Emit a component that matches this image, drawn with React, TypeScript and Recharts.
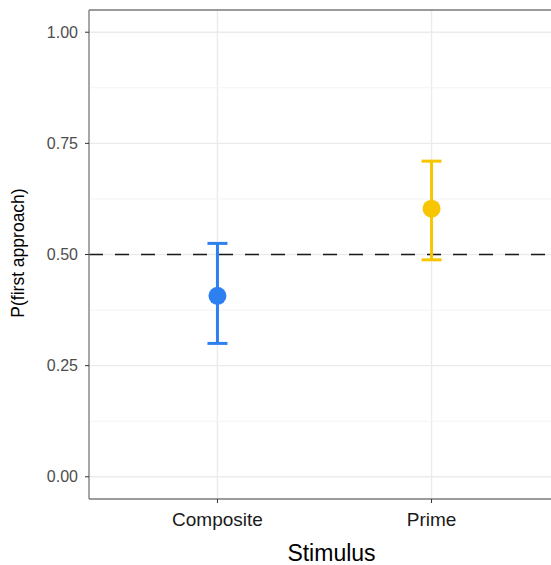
import {
  CartesianGrid,
  ComposedChart,
  ErrorBar,
  ReferenceLine,
  Scatter,
  XAxis,
  YAxis
} from "recharts";

const categories = ["Composite", "Prime"];
const means = [0.407, 0.603];
const lower = [0.3, 0.488];
const upper = [0.525, 0.71];
const colors = ["#2D80F0", "#F7C600"];
const yTicks = [0, 0.25, 0.5, 0.75, 1];
const minorTicks = [0.125, 0.375, 0.625, 0.875];

const series = categories.map((name, i) => ({
  name,
  color: colors[i],
  data: [{ x: i + 1, y: means[i], err: [means[i] - lower[i], upper[i] - means[i]] }]
}));

const font = "'Liberation Sans', Arial, Helvetica, sans-serif";

export default function App() {
  return (
    <div style={{ width: 551, height: 565, overflow: "hidden", position: "relative" }}>
      <style>{"html, body { margin: 0; padding: 0; overflow: hidden; }"}</style>
      <ComposedChart width={561} height={565} margin={{ top: 10, right: 1, left: 0, bottom: 0 }}>
        <CartesianGrid stroke="#EBEBEB" strokeWidth={1.4} />
        {minorTicks.map((t) => (
          <ReferenceLine key={t} y={t} stroke="#F3F3F3" strokeWidth={1} />
        ))}
        <XAxis
          type="number"
          dataKey="x"
          domain={[0.4, 2.6]}
          ticks={[1, 2]}
          tickFormatter={(v: number) => categories[v - 1] ?? ""}
          height={66}
          tickSize={4}
          tickMargin={10}
          axisLine={{ stroke: "#7F7F7F", strokeWidth: 1.3 }}
          tickLine={{ stroke: "#333333" }}
          tick={{ fill: "#1A1A1A", fontSize: 19, fontFamily: font }}
          label={{
            value: "Stimulus",
            position: "insideBottom",
            offset: 4,
            dx: 7,
            fill: "#000",
            fontSize: 23,
            fontFamily: font
          }}
          allowDataOverflow
        />
        <YAxis
          type="number"
          dataKey="y"
          domain={[-0.05, 1.05]}
          ticks={yTicks}
          tickFormatter={(v: number) => v.toFixed(2)}
          width={89}
          tickSize={4}
          tickMargin={7}
          axisLine={{ stroke: "#7F7F7F", strokeWidth: 1.3 }}
          tickLine={{ stroke: "#333333" }}
          tick={{ fill: "#4D4D4D", fontSize: 16, fontFamily: font }}
          allowDataOverflow
        />
        <ReferenceLine y={1.05} stroke="#7F7F7F" strokeWidth={1.3} ifOverflow="extendDomain" />
        <ReferenceLine y={0.5} stroke="#1A1A1A" strokeWidth={1.6} strokeDasharray="14 12" />
        {series.map((s) => (
          <Scatter
            key={s.name}
            name={s.name}
            data={s.data}
            fill={s.color}
            isAnimationActive={false}
            shape={(p: any) => <circle cx={p.cx} cy={p.cy} r={9} fill={s.color} />}
          >
            <ErrorBar
              dataKey="err"
              direction="y"
              width={10}
              stroke={s.color}
              strokeWidth={3}
              isAnimationActive={false}
            />
          </Scatter>
        ))}
      </ComposedChart>
      <div
        style={{
          position: "absolute",
          left: 18,
          top: 253,
          transform: "translate(-50%, -50%) rotate(-90deg)",
          whiteSpace: "nowrap",
          fontFamily: font,
          fontSize: 17.5,
          color: "#000"
        }}
      >
        P(first approach)
      </div>
    </div>
  );
}
